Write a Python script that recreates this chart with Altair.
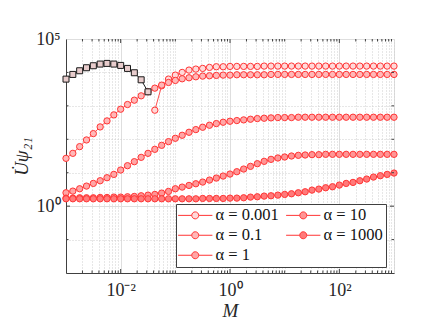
import altair as alt
import numpy as np
import pandas as pd

# sample grid of M (49 points, 8 per decade)
M = np.logspace(-3, 3, 49)

# log10 of U psi_21
unstable_idx = list(range(0, 13))
unstable_log = [3.80, 3.94, 4.05, 4.14, 4.20, 4.25, 4.27, 4.25, 4.21, 4.12, 3.99, 3.78, 3.42]

a0001_idx = list(range(13, 49))
a0001_log = [2.87, 3.60, 3.80, 3.92, 4.00, 4.07, 4.10, 4.12, 4.15, 4.17,
             4.17, 4.18, 4.18, 4.18, 4.18, 4.18, 4.19, 4.19] + [4.19] * 18

a01_log = [1.43, 1.58, 1.78, 1.98, 2.17, 2.37, 2.55, 2.73, 2.90, 3.04, 3.17, 3.30,
           3.42, 3.53, 3.62, 3.70, 3.76, 3.81, 3.84, 3.87, 3.89, 3.90, 3.91,
           3.92, 3.92, 3.93, 3.93, 3.93, 3.93, 3.93] + [3.94] * 19

a1_log = [0.40, 0.45, 0.52, 0.60, 0.68, 0.76, 0.85, 0.95, 1.08, 1.21, 1.33, 1.46,
          1.58, 1.70, 1.82, 1.93, 2.03, 2.12, 2.21, 2.29, 2.36, 2.42, 2.47, 2.51,
          2.54, 2.56, 2.58, 2.60, 2.62, 2.63, 2.64, 2.65, 2.65, 2.65] + [2.66] * 15

a10_log = [0.24, 0.24, 0.25, 0.25, 0.25, 0.26, 0.26, 0.27, 0.27, 0.28,
           0.29, 0.31, 0.33, 0.35, 0.39, 0.44,
           0.52, 0.57, 0.62, 0.67, 0.72, 0.78, 0.84, 0.90, 0.96,
           1.03, 1.11, 1.19, 1.27, 1.34, 1.40, 1.44, 1.47, 1.50, 1.52, 1.53, 1.54,
           1.54] + [1.55] * 11

a1000_log = [0.22] * 19 + [0.22, 0.23, 0.23, 0.23, 0.23, 0.24, 0.24, 0.25] + \
            [0.27, 0.28, 0.30, 0.31, 0.33, 0.35, 0.37, 0.40, 0.43, 0.48, 0.51,
             0.55, 0.58, 0.63, 0.68, 0.71, 0.76, 0.81, 0.87, 0.91, 0.95, 0.99]

labels = ["α = 0.001", "α = 0.1", "α = 1", "α = 10", "α = 1000"]
fills = ["#ffd9d9", "#ffb8b8", "#ffa6a6", "#ff9595", "#ff7a7a"]

x_ticks_all = [d * 10.0 ** k for k in range(-3, 3) for d in range(1, 10)] + [1000.0]
x_major = [0.01, 1.0, 100.0]
y_ticks_all = [1e-2, 1e-1, 1.0, 10.0, 100.0, 1e3, 1e4, 1e5]
y_major = [1.0, 1e5]

rows = []
series = [(labels[0], a0001_idx, a0001_log),
          (labels[1], list(range(49)), a01_log),
          (labels[2], list(range(49)), a1_log),
          (labels[3], list(range(49)), a10_log),
          (labels[4], list(range(49)), a1000_log)]
for k, (lab, idx, logs) in enumerate(series):
    for i, e in zip(idx, logs):
        rows.append({"M": M[i], "psi": 10 ** e, "series": lab, "order": k})
df = pd.DataFrame(rows)
df_unst = pd.DataFrame({"M": [M[i] for i in unstable_idx],
                        "psi": [10 ** e for e in unstable_log]})

W, H = 328, 234
SERIF = "Liberation Serif"
RED_EDGE = "#ff3535"
RED_LINE = "#ff5050"
AX = "#404040"

xscale = alt.Scale(type="log", domain=[1e-3, 1e3], nice=False)
yscale = alt.Scale(type="log", domain=[1e-2, 1e5], nice=False)

xmaj_test = " || ".join(f"datum.value == {v}" for v in x_major)
ymaj_test = " || ".join(f"datum.value == {v}" for v in y_major)

x_axis = alt.Axis(
    values=x_ticks_all, title="M", titleFont=SERIF, titleFontStyle="italic",
    titleFontSize=19, titleFontWeight="normal", titleColor="#262626", titlePadding=2,
    labelExpr="datum.value == 0.01 ? '10⁻²' : datum.value == 1 ? '10⁰' : datum.value == 100 ? '10²' : ''",
    labelFont=SERIF, labelFontSize=18, labelColor="#262626", labelPadding=8,
    labelFlush=False, labelOverlap=False, ticks=False, domainColor=AX,
    gridColor={"condition": {"test": xmaj_test, "value": "#dedede"}, "value": "#cfcfcf"},
    gridDash={"condition": {"test": xmaj_test, "value": []}, "value": [1, 2]},
)
y_axis = alt.Axis(
    values=y_ticks_all, title="U̇ψ₂₁", titleFont=SERIF, titleFontStyle="italic",
    titleFontSize=19, titleFontWeight="normal", titleColor="#262626", titlePadding=4,
    labelExpr="datum.value == 1 ? '10⁰' : datum.value == 100000 ? '10⁵' : ''",
    labelFont=SERIF, labelFontSize=18, labelColor="#262626", labelPadding=6,
    labelFlush=False, labelOverlap=False, ticks=False, domainColor=AX,
    gridColor={"condition": {"test": ymaj_test, "value": "#dedede"}, "value": "#cfcfcf"},
    gridDash={"condition": {"test": ymaj_test, "value": []}, "value": [1, 2]},
)

base = alt.Chart(df)
lines = base.mark_line(color=RED_LINE, strokeWidth=1).encode(
    x=alt.X("M:Q", scale=xscale, axis=x_axis),
    y=alt.Y("psi:Q", scale=yscale, axis=y_axis),
    detail="series:N",
)
sym_path = ("M-2.45,0L-0.5,0M0.5,0L2.45,0"
            "M-0.5,0A0.5,0.5,0,1,1,0.5,0A0.5,0.5,0,1,1,-0.5,0Z")
points = base.mark_point(shape="circle", filled=True, size=40, stroke=RED_EDGE,
                         strokeWidth=1, opacity=1).encode(
    x=alt.X("M:Q", scale=xscale),
    y=alt.Y("psi:Q", scale=yscale),
    fill=alt.Fill("series:N", scale=alt.Scale(domain=labels, range=fills),
                  legend=alt.Legend(
                      title=None, orient="none", legendX=110, legendY=165, columns=2,
                      symbolType=sym_path, symbolSize=196, symbolStrokeColor=RED_EDGE,
                      symbolStrokeWidth=1, symbolOpacity=1, symbolOffset=8,
                      labelFont=SERIF, labelFontSize=16.5, labelColor="#111111",
                      labelOffset=12, labelLimit=200,
                      padding=3, rowPadding=3, columnPadding=5,
                      fillColor="white", strokeColor=AX)),
    order="order:Q",
)
unst_line = alt.Chart(df_unst).mark_line(color="#1a1a1a", strokeWidth=1).encode(
    x=alt.X("M:Q", scale=xscale), y=alt.Y("psi:Q", scale=yscale))
unst_pts = alt.Chart(df_unst).mark_point(shape="square", filled=True, size=36,
                                         fill="#e8cccc", stroke="#1a1a1a",
                                         strokeWidth=1, opacity=1).encode(
    x=alt.X("M:Q", scale=xscale), y=alt.Y("psi:Q", scale=yscale))

xt = pd.DataFrame({"t": [v for v in x_ticks_all if 1e-3 < v < 1e3]})
xt["maj"] = xt["t"].isin(x_major)
yt = pd.DataFrame({"t": [v for v in y_ticks_all if 1e-2 < v < 1e5]})
yt["maj"] = yt["t"].isin(y_major)

def xtick(d, y0, y1):
    return alt.Chart(d).mark_rule(color=AX, strokeWidth=1).encode(
        x=alt.X("t:Q", scale=xscale), y=alt.value(y0), y2=alt.value(y1))

def ytick(d, x0, x1):
    return alt.Chart(d).mark_rule(color=AX, strokeWidth=1).encode(
        y=alt.Y("t:Q", scale=yscale), x=alt.value(x0), x2=alt.value(x1))

xmaj = xt[xt.maj]; xmin = xt[~xt.maj]
ymaj = yt[yt.maj]; ymin = yt[~yt.maj]
ticks = [xtick(xmaj, H, H - 4), xtick(xmaj, 0, 4), xtick(xmin, H, H - 2.5), xtick(xmin, 0, 2.5),
         ytick(ymaj, 0, 4), ytick(ymaj, W, W - 4), ytick(ymin, 0, 2.5), ytick(ymin, W, W - 2.5)]

chart = alt.layer(lines, points, unst_line, unst_pts, *ticks).properties(
    width=W, height=H,
    autosize=alt.AutoSizeParams(type="none"),
    padding={"left": 58, "top": 31, "right": 30, "bottom": 48},
).configure_view(stroke=AX, strokeWidth=1).configure(background="white")

chart.save("out.html", embed_options={"renderer": "svg", "actions": False})
